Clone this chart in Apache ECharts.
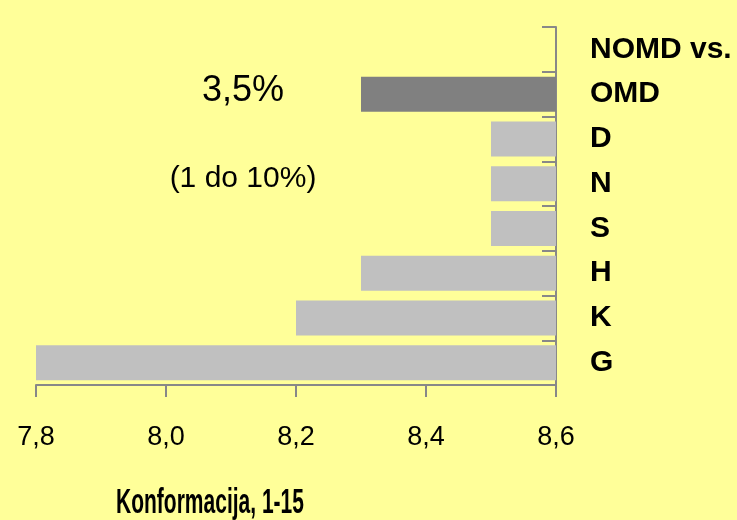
<!DOCTYPE html>
<html>
<head>
<meta charset="utf-8">
<script src="https://cdn.jsdelivr.net/npm/echarts@6/dist/echarts.min.js"></script>
<style>
html,body{margin:0;padding:0;background:#FFFF99;}
#c{width:737px;height:520px;}
</style>
</head>
<body>
<div id="c"></div>
<script>
var categories = ['G', 'K', 'H', 'S', 'N', 'D', 'OMD', 'NOMD vs.'];
var values = [7.8, 8.2, 8.3, 8.5, 8.5, 8.5, 8.3, null];
var highlight = 'OMD';
var xTicks = [7.8, 8.0, 8.2, 8.4, 8.6];
var barStart = 8.6;
var axisTitle = 'Konformacija, 1-15';
var noteMain = '3,5%';
var noteRange = '(1 do 10%)';

var chart = echarts.init(document.getElementById('c'), null, {renderer: 'canvas'});
var sans = '"Liberation Sans", Arial, sans-serif';

var data = values.map(function (v, i) {
  if (v === null) return '-';
  return {
    value: v,
    itemStyle: {color: categories[i] === highlight ? '#808080' : '#C0C0C0'}
  };
});

chart.setOption({
  backgroundColor: '#FFFF99',
  animation: false,
  grid: {left: 36, right: 181, top: 27, bottom: 135, containLabel: false, outerBoundsMode: 'none'},
  xAxis: {
    type: 'value',
    min: xTicks[0],
    max: xTicks[xTicks.length - 1],
    startValue: barStart,
    interval: 0.2,
    splitLine: {show: false},
    axisLine: {show: true, lineStyle: {color: '#888888', width: 2}},
    axisTick: {show: true, length: 12, lineStyle: {color: '#888888', width: 2}},
    axisLabel: {
      margin: 39,
      color: '#000',
      fontFamily: sans,
      fontSize: 27,
      formatter: function (v) { return v.toFixed(1).replace('.', ','); }
    }
  },
  yAxis: {
    type: 'category',
    data: categories,
    position: 'right',
    axisLine: {show: true, lineStyle: {color: '#888888', width: 2}},
    axisTick: {show: true, inside: true, length: 14, lineStyle: {color: '#888888', width: 2}},
    axisLabel: {
      margin: 34,
      color: '#000',
      fontFamily: sans,
      fontWeight: 'bold',
      fontSize: 30,
      align: 'left'
    }
  },
  series: [{
    type: 'bar',
    data: data,
    barWidth: 35,
    itemStyle: {color: '#C0C0C0'}
  }],
  graphic: [
    {type: 'text', z: 100, x: 243, y: 91, style: {text: noteMain, fill: '#000', font: '36px ' + sans, textAlign: 'center', textVerticalAlign: 'middle'}},
    {type: 'text', z: 100, x: 243, y: 179, style: {text: noteRange, fill: '#000', font: '30px ' + sans, textAlign: 'center', textVerticalAlign: 'middle'}},
    {type: 'text', z: 100, x: 210, y: 503, scaleY: 1.7, style: {text: axisTitle, fill: '#000', font: 'bold 21px ' + sans, textAlign: 'center', textVerticalAlign: 'middle'}}
  ]
});
</script>
</body>
</html>
